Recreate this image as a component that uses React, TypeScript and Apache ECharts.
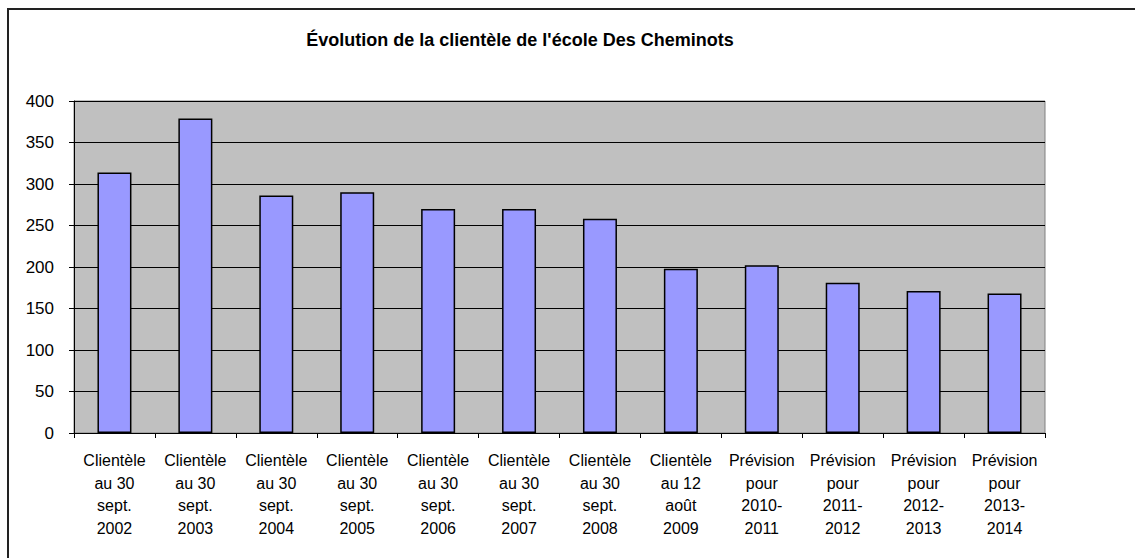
import React, { useEffect, useRef } from "react";
import * as echarts from "echarts";

const titleText = "Évolution de la clientèle de l'école Des Cheminots";

const categories = [
  "Clientèle\nau 30\nsept.\n2002",
  "Clientèle\nau 30\nsept.\n2003",
  "Clientèle\nau 30\nsept.\n2004",
  "Clientèle\nau 30\nsept.\n2005",
  "Clientèle\nau 30\nsept.\n2006",
  "Clientèle\nau 30\nsept.\n2007",
  "Clientèle\nau 30\nsept.\n2008",
  "Clientèle\nau 12\naoût\n2009",
  "Prévision\npour\n2010-\n2011",
  "Prévision\npour\n2011-\n2012",
  "Prévision\npour\n2012-\n2013",
  "Prévision\npour\n2013-\n2014",
];

const values = [314, 379, 286, 290, 270, 270, 258, 198, 202, 181, 171, 168];

const yMin = 0;
const yMax = 400;
const yInterval = 50;

export default function App() {
  const ref = useRef<HTMLDivElement>(null);

  useEffect(() => {
    if (!ref.current) return;
    const chart = echarts.init(ref.current, undefined, { renderer: "svg" });
    const font = "'Liberation Sans', Arial, sans-serif";
    chart.setOption({
      animation: false,
      backgroundColor: "#ffffff",
      textStyle: { fontFamily: font },
      graphic: [
        {
          type: "rect",
          shape: { x: 8, y: 9, width: 1300, height: 700 },
          style: { fill: "none", stroke: "#222", lineWidth: 2 },
          silent: true,
          z: 100,
        },
      ],
      title: {
        text: titleText,
        left: 515,
        textAlign: "center",
        top: 26,
        textStyle: {
          fontFamily: font,
          fontSize: 18,
          fontWeight: "bold",
          color: "#000",
        },
      },
      grid: {
        left: 74,
        right: 90,
        top: 101,
        bottom: 125,
        show: true,
        backgroundColor: "#C0C0C0",
        borderColor: "#808080",
        borderWidth: 1,
      },
      xAxis: {
        type: "category",
        data: categories,
        boundaryGap: true,
        axisLine: { show: true, lineStyle: { color: "#000", width: 1 } },
        axisTick: { show: true, length: 5, alignWithLabel: false, lineStyle: { color: "#000" } },
        axisLabel: {
          interval: 0,
          margin: 16,
          fontFamily: font,
          fontSize: 16,
          lineHeight: 22.7,
          color: "#000",
          align: "center",
        },
        splitLine: { show: false },
      },
      yAxis: {
        type: "value",
        min: yMin,
        max: yMax,
        interval: yInterval,
        axisLine: { show: true, lineStyle: { color: "#000", width: 1 } },
        axisTick: { show: true, length: 5, lineStyle: { color: "#000" } },
        axisLabel: {
          margin: 20,
          fontFamily: font,
          fontSize: 17,
          color: "#000",
        },
        splitLine: { show: true, lineStyle: { color: "#000", width: 1 } },
      },
      series: [
        {
          type: "bar",
          data: values,
          barWidth: "42%",
          itemStyle: {
            color: "#9999FF",
            borderColor: "#000",
            borderWidth: 1.5,
          },
        },
      ],
    });
    return () => chart.dispose();
  }, []);

  return (
    <div
      ref={ref}
      style={{ position: "fixed", left: 0, top: 0, width: 1135, height: 558 }}
    />
  );
}
